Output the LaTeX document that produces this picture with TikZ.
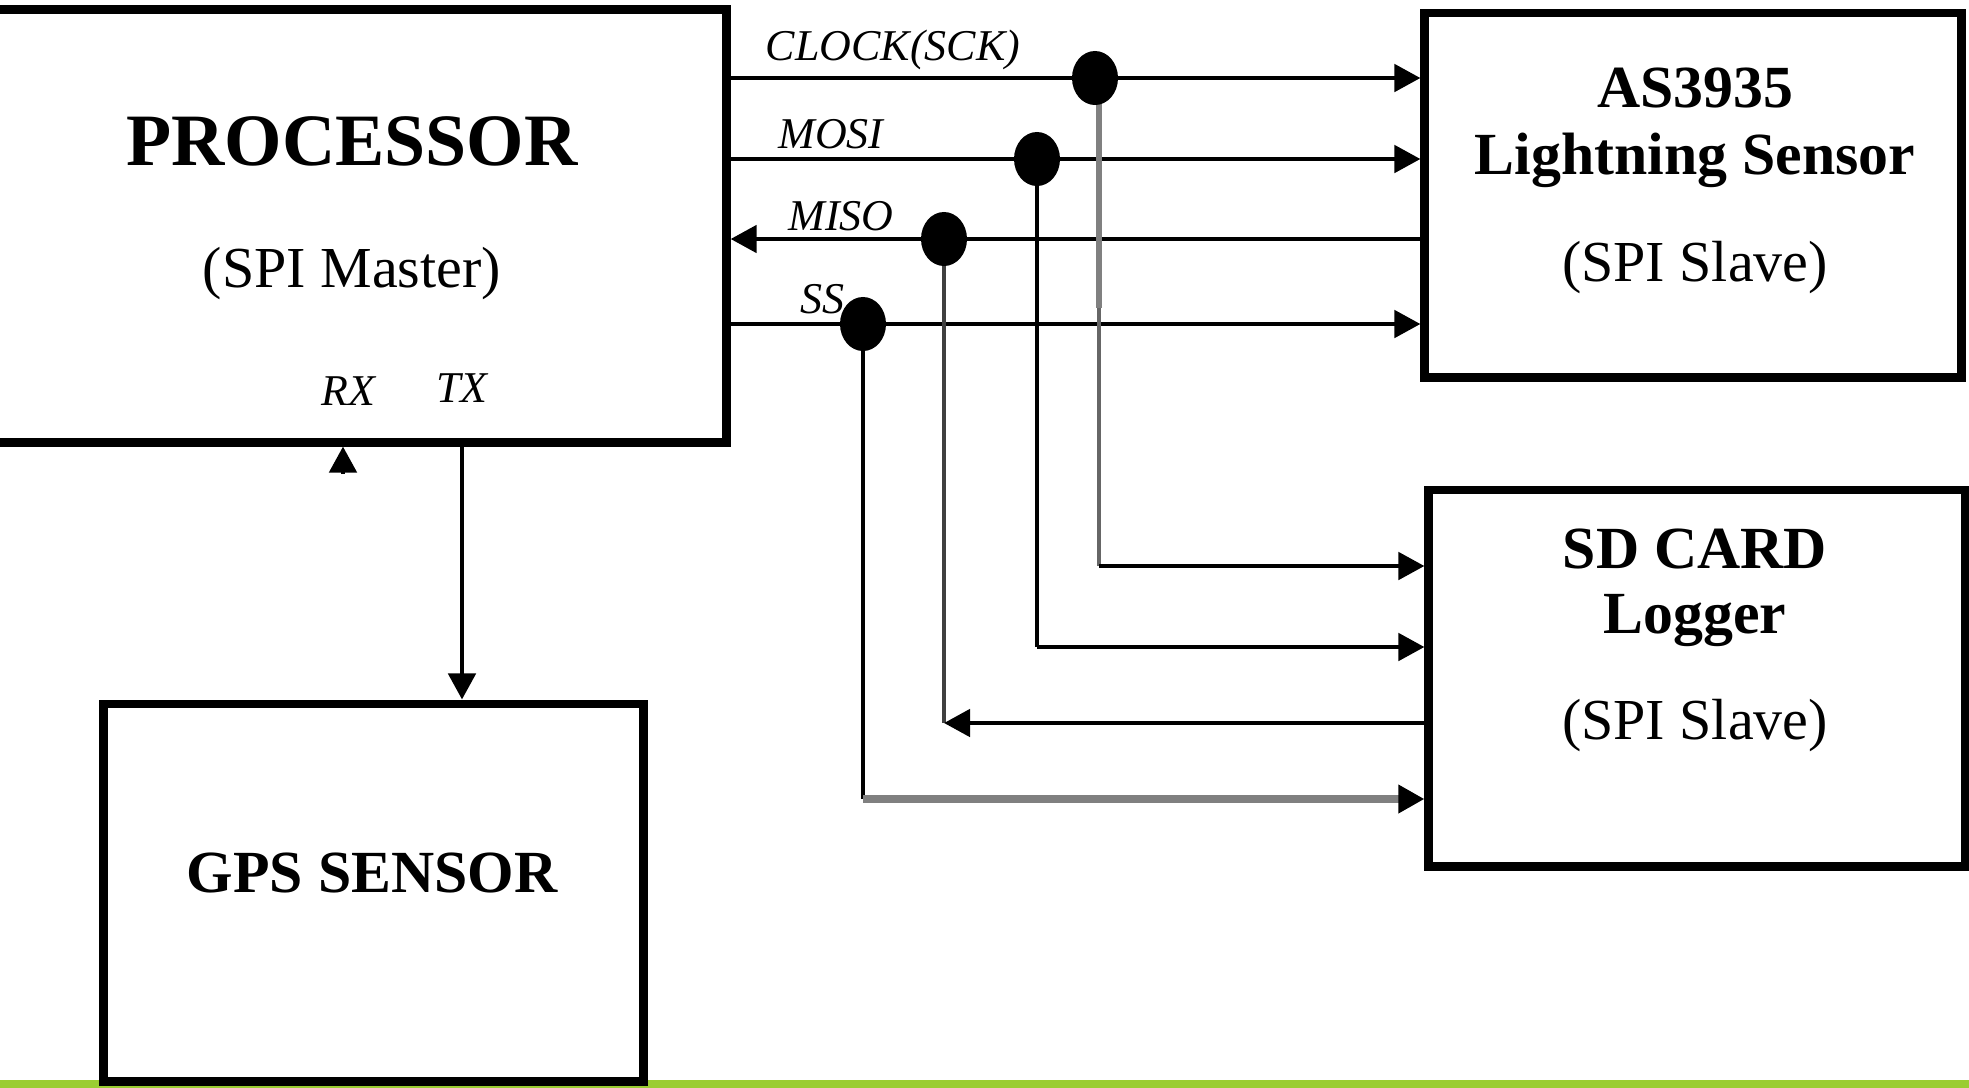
\documentclass[tikz,border=0pt]{standalone}
\usepackage{fontspec}
\setmainfont{Liberation Serif}
\usetikzlibrary{arrows.meta,positioning,shapes.geometric}

\begin{document}
\begin{tikzpicture}[
  x=0.01cm, y=-0.01cm,
  box/.style={draw,line width=2.5pt,minimum width=#1,inner sep=0pt},
  head/.style={font=\fontsize{17}{20}\selectfont\bfseries,inner sep=0pt},
  sub/.style={font=\fontsize{16.5}{19}\selectfont,inner sep=0pt},
  pin/.style={font=\fontsize{12.5}{14}\selectfont\itshape,inner sep=0pt},
  sig/.style={line width=1.35pt},
  arr/.style={-{Triangle[length=0.26cm,width=0.27cm,black]}},
  dot/.style={ellipse,fill,minimum width=0.46cm,minimum height=0.54cm,inner sep=0pt}
]
\useasboundingbox (0,0) rectangle (1969,1087);
\draw[line width=3pt,color={rgb,255:red,154;green,205;blue,50}] (0,1085.5) -- (1969,1085.5);

\node[box=7.46cm,minimum height=4.32cm] (proc) at (353,226) {};
\node[box=5.36cm,minimum height=3.64cm] (as) at (1693,195) {};
\node[box=5.36cm,minimum height=3.76cm] (sd) at (1697,678) {};
\node[box=5.39cm,minimum height=3.77cm,fill=white] (gps) at (373.5,892.5) {};

\node[head,font=\fontsize{21}{24}\selectfont\bfseries] (proct) at (352,141) {PROCESSOR};
\node[sub] (procs) at (352,274) {(SPI Master)};
\node[pin] (rx) at (348,391) {RX};
\node[pin] (tx) at (462,388) {TX};
\node[head] (ast) at (1695,88) {AS3935};
\node[head] (asn) at (1695,160) {Lightning Sensor};
\node[sub] (ass) at (1695,268) {(SPI Slave)};
\node[head] (sdt) at (1695,549) {SD CARD};
\node[head] (sdn) at (1695,621) {Logger};
\node[sub] (sds) at (1695,726) {(SPI Slave)};
\node[head] (gpst) at (372,873) {GPS SENSOR};

\node[pin] (clkl) at (893,50) {CLOCK(SCK)};
\node[pin] (mosil) at (831,134) {MOSI};
\node[pin] (misol) at (841,216) {MISO};
\node[pin] (ssl) at (822,299) {SS};

\coordinate (clk) at (1095,78);
\coordinate (mosi) at (1037,159);
\coordinate (miso) at (944,239);
\coordinate (ss) at (863,324);
\coordinate (clkmid) at (1099,308);
\coordinate (clkturn) at (1099,566);
\coordinate (mositurn) at (1037,647);
\coordinate (misoturn) at (944,723);
\coordinate (ssturn) at (863,799);
\coordinate (rxend) at (343,474);

\draw[sig,arr] (proc.east |- clk) -- (as.west |- clk);
\draw[sig,arr] (proc.east |- mosi) -- (as.west |- mosi);
\draw[sig,arr] (as.west |- miso) -- (proc.east |- miso);
\draw[sig,arr] (proc.east |- ss) -- (as.west |- ss);

\draw[sig,draw=gray,line width=1.9pt] (clkmid |- clk) -- (clkmid);
\draw[sig,draw=black!60] (clkmid) -- (clkturn);
\draw[sig,arr] (clkturn) -- (sd.west |- clkturn);
\draw[sig] (mosi) -- (mositurn);
\draw[sig,arr] (mositurn) -- (sd.west |- mositurn);
\draw[sig,draw=black!75] (miso) -- (misoturn);
\draw[sig,arr] (sd.west |- misoturn) -- (misoturn);
\draw[sig] (ss) -- (ssturn);
\draw[sig,arr,draw=gray,line width=2.2pt] (ssturn) -- (sd.west |- ssturn);

\node[dot] (clkdot) at (clk) {};
\node[dot] (mosidot) at (mosi) {};
\node[dot] (misodot) at (miso) {};
\node[dot] (ssdot) at (ss) {};

\draw[sig,arr] (rxend) -- (rxend |- proc.south);
\draw[sig,arr] (proc.south -| tx) -- (gps.north -| tx);
\end{tikzpicture}
\end{document}
